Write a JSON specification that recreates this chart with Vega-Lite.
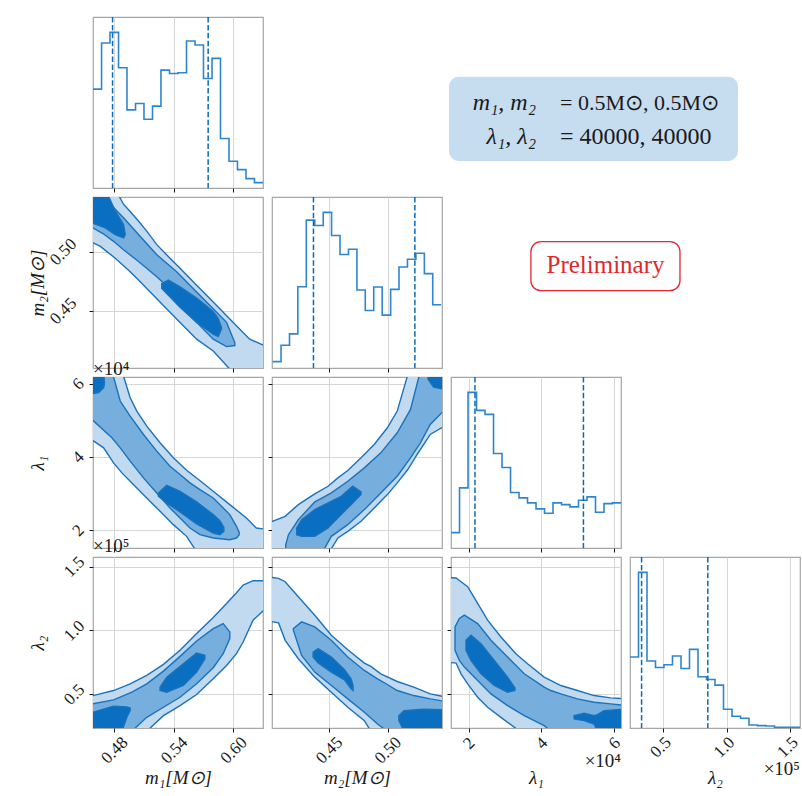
{
"$schema":"https://vega.github.io/schema/vega-lite/v6.json",
"background":"white",
"padding":{"left":27,"top":15,"right":0,"bottom":0},
"autosize":{"type":"pad"},
"config":{
 "font":"Liberation Serif",
 "view":{"stroke":"#a6a6a6","strokeWidth":1.2},
 "axis":{"domain":false,"grid":true,"gridColor":"#d2d2d2","gridWidth":0.9,"tickColor":"#1a1a1a","tickSize":4,"tickWidth":1,"labelFont":"Liberation Serif","labelFontSize":17,"labelColor":"#1a1a1a","labelFlush":false,"labelOverlap":false,"titleFont":"Liberation Serif","titleFontSize":19,"titleFontWeight":"normal","titleFontStyle":"italic","titleColor":"#1a1a1a"},
 "title":{"font":"Liberation Serif","fontSize":19,"fontWeight":"normal","color":"#1a1a1a"}
},
"datasets":{
"h11":[{"x":0.4586,"c":296},{"x":0.4672,"c":434},{"x":0.4757,"c":466},{"x":0.4843,"c":360},{"x":0.4928,"c":234},{"x":0.5014,"c":253},{"x":0.5099,"c":206},{"x":0.5185,"c":245},{"x":0.527,"c":353},{"x":0.5356,"c":343},{"x":0.5441,"c":345},{"x":0.5527,"c":440},{"x":0.5613,"c":428},{"x":0.5698,"c":328},{"x":0.5784,"c":388},{"x":0.5869,"c":148},{"x":0.5955,"c":80},{"x":0.604,"c":55},{"x":0.6126,"c":28},{"x":0.6211,"c":16},{"x":0.6297,"c":16}],
"h22":[{"x":0.402,"c":19},{"x":0.4092,"c":68},{"x":0.4164,"c":102},{"x":0.4235,"c":243},{"x":0.4307,"c":442},{"x":0.4379,"c":426},{"x":0.4451,"c":465},{"x":0.4522,"c":396},{"x":0.4594,"c":339},{"x":0.4666,"c":355},{"x":0.4738,"c":233},{"x":0.4809,"c":172},{"x":0.4881,"c":242},{"x":0.4953,"c":158},{"x":0.5025,"c":235},{"x":0.5096,"c":302},{"x":0.5168,"c":325},{"x":0.524,"c":343},{"x":0.5312,"c":282},{"x":0.5383,"c":189},{"x":0.5455,"c":189}],
"h33":[{"x":15180,"c":46},{"x":17513,"c":180},{"x":19845,"c":466},{"x":22178,"c":412},{"x":24510,"c":400},{"x":26843,"c":283},{"x":29175,"c":241},{"x":31508,"c":166},{"x":33840,"c":150},{"x":36173,"c":135},{"x":38505,"c":117},{"x":40838,"c":104},{"x":43170,"c":135},{"x":45503,"c":130},{"x":47835,"c":123},{"x":50168,"c":143},{"x":52500,"c":153},{"x":54833,"c":107},{"x":57165,"c":133},{"x":59498,"c":135},{"x":61830,"c":135}],
"h44":[{"x":23750,"c":212},{"x":30443,"c":465},{"x":37135,"c":200},{"x":43828,"c":181},{"x":50520,"c":189},{"x":57213,"c":215},{"x":63905,"c":178},{"x":70598,"c":235},{"x":77290,"c":153},{"x":83983,"c":145},{"x":90675,"c":128},{"x":97368,"c":56},{"x":104060,"c":35},{"x":110753,"c":29},{"x":117445,"c":9},{"x":124138,"c":7},{"x":130830,"c":6},{"x":137523,"c":2},{"x":144215,"c":2},{"x":150908,"c":2},{"x":157600,"c":2}],
"c21":[
{"l":1,"x":0.452,"lo":0.5101,"hi":0.553},{"l":1,"x":0.466,"lo":0.5044,"hi":0.553},{"l":1,"x":0.481,"lo":0.4944,"hi":0.553},{"l":1,"x":0.4893,"lo":0.4881,"hi":0.5401},{"l":1,"x":0.496,"lo":0.483,"hi":0.5339},{"l":1,"x":0.5044,"lo":0.4759,"hi":0.5259},{"l":1,"x":0.5127,"lo":0.4687,"hi":0.5173},{"l":1,"x":0.5228,"lo":0.4601,"hi":0.5059},{"l":1,"x":0.5361,"lo":0.4487,"hi":0.4944},{"l":1,"x":0.5462,"lo":0.4401,"hi":0.4859},{"l":1,"x":0.5629,"lo":0.4259,"hi":0.4716},{"l":1,"x":0.5796,"lo":0.4159,"hi":0.4573},{"l":1,"x":0.5963,"lo":0.4005,"hi":0.443},{"l":1,"x":0.6163,"lo":0.395,"hi":0.4259},{"l":1,"x":0.636,"lo":0.395,"hi":0.4187},
{"l":2,"x":0.452,"lo":0.523,"hi":0.553},{"l":2,"x":0.4686,"lo":0.5153,"hi":0.553},{"l":2,"x":0.4793,"lo":0.5087,"hi":0.5373},{"l":2,"x":0.4893,"lo":0.5016,"hi":0.5287},{"l":2,"x":0.5044,"lo":0.4916,"hi":0.5144},{"l":2,"x":0.5228,"lo":0.4787,"hi":0.4973},{"l":2,"x":0.5428,"lo":0.463,"hi":0.483},{"l":2,"x":0.5629,"lo":0.4401,"hi":0.4659},{"l":2,"x":0.5796,"lo":0.4259,"hi":0.4516},{"l":2,"x":0.593,"lo":0.4196,"hi":0.4401},{"l":2,"x":0.6013,"lo":0.4205,"hi":0.423},
{"l":3,"p":"a","x":0.452,"lo":0.5259,"hi":0.553},{"l":3,"p":"a","x":0.471,"lo":0.5201,"hi":0.553},{"l":3,"p":"a","x":0.481,"lo":0.5144,"hi":0.5344},{"l":3,"p":"a","x":0.4893,"lo":0.5116,"hi":0.523},{"l":3,"p":"a","x":0.491,"lo":0.514,"hi":0.515},
{"l":3,"p":"b","x":0.5278,"lo":0.4687,"hi":0.473},{"l":3,"p":"b","x":0.5345,"lo":0.463,"hi":0.4759},{"l":3,"p":"b","x":0.5462,"lo":0.453,"hi":0.4701},{"l":3,"p":"b","x":0.5629,"lo":0.4401,"hi":0.4607},{"l":3,"p":"b","x":0.5796,"lo":0.4301,"hi":0.4493},{"l":3,"p":"b","x":0.5846,"lo":0.4281,"hi":0.4436},{"l":3,"p":"b","x":0.5879,"lo":0.4344,"hi":0.4359}],
"c31":[
{"l":1,"x":0.452,"lo":45697,"hi":63500},{"l":1,"x":0.4693,"lo":42506,"hi":63500},{"l":1,"x":0.4793,"lo":38405,"hi":63500},{"l":1,"x":0.4877,"lo":35670,"hi":63500},{"l":1,"x":0.496,"lo":33392,"hi":56179},{"l":1,"x":0.5027,"lo":31568,"hi":52533},{"l":1,"x":0.5127,"lo":28833,"hi":48431},{"l":1,"x":0.5261,"lo":25188,"hi":43874},{"l":1,"x":0.5395,"lo":21543,"hi":39772},{"l":1,"x":0.5528,"lo":18351,"hi":36399},{"l":1,"x":0.5645,"lo":13500,"hi":33938},{"l":1,"x":0.5796,"lo":13500,"hi":30657},{"l":1,"x":0.5963,"lo":13500,"hi":27011},{"l":1,"x":0.613,"lo":13500,"hi":23365},{"l":1,"x":0.623,"lo":13500,"hi":20631},{"l":1,"x":0.636,"lo":13500,"hi":20175},
{"l":2,"x":0.452,"lo":51621,"hi":63500},{"l":2,"x":0.4776,"lo":45241,"hi":63500},{"l":2,"x":0.486,"lo":42506,"hi":55267},{"l":2,"x":0.496,"lo":38860,"hi":51166},{"l":2,"x":0.5094,"lo":34303,"hi":46152},{"l":2,"x":0.5228,"lo":30201,"hi":41595},{"l":2,"x":0.5361,"lo":26100,"hi":37493},{"l":2,"x":0.5462,"lo":23365,"hi":35214},{"l":2,"x":0.5562,"lo":20631,"hi":32936},{"l":2,"x":0.5662,"lo":18808,"hi":31112},{"l":2,"x":0.5796,"lo":17897,"hi":28833},{"l":2,"x":0.5963,"lo":17441,"hi":24276},{"l":2,"x":0.603,"lo":17897,"hi":21087},{"l":2,"x":0.6057,"lo":18808,"hi":19500},
{"l":3,"p":"a","x":0.452,"lo":57090,"hi":63500},{"l":3,"p":"a","x":0.4643,"lo":57546,"hi":63500},{"l":3,"p":"a","x":0.4693,"lo":58913,"hi":63500},{"l":3,"p":"a","x":0.47,"lo":59825,"hi":60736},
{"l":3,"p":"b","x":0.5244,"lo":29290,"hi":30201},{"l":3,"p":"b","x":0.5328,"lo":27466,"hi":32297},{"l":3,"p":"b","x":0.5462,"lo":25005,"hi":30657},{"l":3,"p":"b","x":0.5629,"lo":21725,"hi":27740},{"l":3,"p":"b","x":0.5796,"lo":19264,"hi":24276},{"l":3,"p":"b","x":0.5863,"lo":18808,"hi":22636},{"l":3,"p":"b","x":0.5903,"lo":19720,"hi":20813}],
"c32":[
{"l":1,"x":0.395,"lo":13500,"hi":21543},{"l":1,"x":0.4127,"lo":13500,"hi":23821},{"l":1,"x":0.4239,"lo":13500,"hi":27011},{"l":1,"x":0.4379,"lo":13500,"hi":29927},{"l":1,"x":0.4492,"lo":13500,"hi":32024},{"l":1,"x":0.4576,"lo":17897,"hi":34303},{"l":1,"x":0.466,"lo":19720,"hi":36308},{"l":1,"x":0.4773,"lo":22454,"hi":39772},{"l":1,"x":0.4885,"lo":26100,"hi":43418},{"l":1,"x":0.4997,"lo":29745,"hi":47975},{"l":1,"x":0.5081,"lo":32936,"hi":52533},{"l":1,"x":0.5171,"lo":36581,"hi":62500},{"l":1,"x":0.525,"lo":40684,"hi":63500},{"l":1,"x":0.5362,"lo":46152,"hi":63500},{"l":1,"x":0.553,"lo":49343,"hi":63500},
{"l":2,"x":0.4132,"lo":13500,"hi":16074},{"l":2,"x":0.4155,"lo":13500,"hi":18808},{"l":2,"x":0.4239,"lo":13500,"hi":22910},{"l":2,"x":0.4379,"lo":13500,"hi":27740},{"l":2,"x":0.4435,"lo":13500,"hi":28700},{"l":2,"x":0.452,"lo":18352,"hi":30201},{"l":2,"x":0.466,"lo":21543,"hi":33392},{"l":2,"x":0.4801,"lo":25643,"hi":37037},{"l":2,"x":0.4941,"lo":30201,"hi":41139},{"l":2,"x":0.5081,"lo":34758,"hi":46608},{"l":2,"x":0.5194,"lo":39772,"hi":52988},{"l":2,"x":0.5278,"lo":43874,"hi":63500},{"l":2,"x":0.5362,"lo":48887,"hi":63500},{"l":2,"x":0.553,"lo":54356,"hi":63500},
{"l":3,"p":"a","x":0.4225,"lo":18808,"hi":20631},{"l":3,"p":"a","x":0.4267,"lo":18352,"hi":22910},{"l":3,"p":"a","x":0.4379,"lo":18352,"hi":25643},{"l":3,"p":"a","x":0.4492,"lo":20631,"hi":27466},{"l":3,"p":"a","x":0.4604,"lo":24276,"hi":29290},{"l":3,"p":"a","x":0.4702,"lo":27466,"hi":32024},{"l":3,"p":"a","x":0.4773,"lo":29745,"hi":30475},
{"l":3,"p":"b","x":0.5343,"lo":61192,"hi":63500},{"l":3,"p":"b","x":0.539,"lo":59096,"hi":63500},{"l":3,"p":"b","x":0.553,"lo":58184,"hi":63500}],
"c41":[
{"l":1,"x":0.452,"lo":21000,"hi":47617},{"l":1,"x":0.4793,"lo":21000,"hi":52865},{"l":1,"x":0.496,"lo":21000,"hi":58113},{"l":1,"x":0.5127,"lo":21000,"hi":64673},{"l":1,"x":0.5295,"lo":33185,"hi":73332},{"l":1,"x":0.5462,"lo":41057,"hi":84353},{"l":1,"x":0.5629,"lo":49716,"hi":97473},{"l":1,"x":0.5796,"lo":62049,"hi":110068},{"l":1,"x":0.593,"lo":72545,"hi":121089},{"l":1,"x":0.603,"lo":81729,"hi":129486},{"l":1,"x":0.6097,"lo":90913,"hi":135521},{"l":1,"x":0.6197,"lo":107969,"hi":138932},{"l":1,"x":0.636,"lo":119777,"hi":138932},
{"l":2,"x":0.452,"lo":21000,"hi":41582},{"l":2,"x":0.4793,"lo":21000,"hi":45518},{"l":2,"x":0.4977,"lo":21000,"hi":51553},{"l":2,"x":0.5127,"lo":31873,"hi":58113},{"l":2,"x":0.5295,"lo":39745,"hi":68084},{"l":2,"x":0.5462,"lo":47617,"hi":79630},{"l":2,"x":0.5629,"lo":58113,"hi":91700},{"l":2,"x":0.5796,"lo":70708,"hi":101409},{"l":2,"x":0.5896,"lo":81729,"hi":105345},{"l":2,"x":0.5963,"lo":93537,"hi":98785},
{"l":3,"p":"a","x":0.452,"lo":21000,"hi":34497},{"l":3,"p":"a","x":0.4793,"lo":21000,"hi":40532},{"l":3,"p":"a","x":0.4877,"lo":21000,"hi":40270},{"l":3,"p":"a","x":0.4927,"lo":31873,"hi":40000},{"l":3,"p":"a","x":0.496,"lo":37121,"hi":39220},
{"l":3,"p":"b","x":0.5261,"lo":52865,"hi":55489},{"l":3,"p":"b","x":0.5328,"lo":51553,"hi":63361},{"l":3,"p":"b","x":0.5495,"lo":56801,"hi":73857},{"l":3,"p":"b","x":0.5629,"lo":67297,"hi":82254},{"l":3,"p":"b","x":0.5712,"lo":77793,"hi":80417}],
"c42":[
{"l":1,"x":0.395,"lo":107969,"hi":142081},{"l":1,"x":0.4071,"lo":105870,"hi":140769},{"l":1,"x":0.4127,"lo":92225,"hi":138145},{"l":1,"x":0.4239,"lo":77793,"hi":126337},{"l":1,"x":0.4379,"lo":63361,"hi":111905},{"l":1,"x":0.452,"lo":51553,"hi":96161},{"l":1,"x":0.466,"lo":39745,"hi":84878},{"l":1,"x":0.4801,"lo":29249,"hi":74382},{"l":1,"x":0.4857,"lo":21000,"hi":71758},{"l":1,"x":0.4941,"lo":21000,"hi":65985},{"l":1,"x":0.5081,"lo":21000,"hi":59950},{"l":1,"x":0.5222,"lo":21000,"hi":55489},{"l":1,"x":0.5362,"lo":21000,"hi":50241},{"l":1,"x":0.553,"lo":21000,"hi":47093},
{"l":2,"x":0.4197,"lo":100097,"hi":101409},{"l":2,"x":0.4267,"lo":80417,"hi":106657},{"l":2,"x":0.4379,"lo":67297,"hi":102721},{"l":2,"x":0.452,"lo":56801,"hi":92225},{"l":2,"x":0.466,"lo":46305,"hi":79105},{"l":2,"x":0.4801,"lo":35809,"hi":68609},{"l":2,"x":0.4913,"lo":26625,"hi":62049},{"l":2,"x":0.4997,"lo":21000,"hi":57588},{"l":2,"x":0.5081,"lo":21000,"hi":52865},{"l":2,"x":0.5222,"lo":21000,"hi":48929},{"l":2,"x":0.5362,"lo":21000,"hi":46305},{"l":2,"x":0.553,"lo":21000,"hi":43681},
{"l":3,"p":"a","x":0.4365,"lo":79105,"hi":83041},{"l":3,"p":"a","x":0.4408,"lo":74382,"hi":85665},{"l":3,"p":"a","x":0.452,"lo":67297,"hi":79105},{"l":3,"p":"a","x":0.4632,"lo":61262,"hi":69134},{"l":3,"p":"a","x":0.4688,"lo":54177,"hi":62049},{"l":3,"p":"a","x":0.4705,"lo":52865,"hi":56801},
{"l":3,"p":"b","x":0.5095,"lo":29249,"hi":33185},{"l":3,"p":"b","x":0.5138,"lo":21000,"hi":37121},{"l":3,"p":"b","x":0.5306,"lo":21000,"hi":38171},{"l":3,"p":"b","x":0.553,"lo":21000,"hi":37646}],
"c43":[
{"l":1,"x":13500,"lo":75169,"hi":141556},{"l":1,"x":16550,"lo":74382,"hi":141031},{"l":1,"x":17919,"lo":65985,"hi":138145},{"l":1,"x":19745,"lo":58113,"hi":134209},{"l":1,"x":22484,"lo":47617,"hi":121089},{"l":1,"x":25223,"lo":39745,"hi":107969},{"l":1,"x":28875,"lo":31873,"hi":94849},{"l":1,"x":32984,"lo":23214,"hi":81729},{"l":1,"x":36179,"lo":21000,"hi":73857},{"l":1,"x":40744,"lo":21000,"hi":63361},{"l":1,"x":45309,"lo":21000,"hi":56801},{"l":1,"x":49874,"lo":21000,"hi":52865},{"l":1,"x":54439,"lo":21000,"hi":48929},{"l":1,"x":59004,"lo":21000,"hi":47093},{"l":1,"x":63500,"lo":21000,"hi":46305},
{"l":2,"x":16276,"lo":84353,"hi":102721},{"l":2,"x":17463,"lo":76481,"hi":109281},{"l":2,"x":18832,"lo":71233,"hi":111905},{"l":2,"x":22484,"lo":60737,"hi":105345},{"l":2,"x":26136,"lo":50241,"hi":92225},{"l":2,"x":30701,"lo":41057,"hi":79105},{"l":2,"x":35266,"lo":33185,"hi":65985},{"l":2,"x":40744,"lo":25313,"hi":55489},{"l":2,"x":42570,"lo":21000,"hi":52865},{"l":2,"x":45309,"lo":21000,"hi":50241},{"l":2,"x":49874,"lo":21000,"hi":46305},{"l":2,"x":54439,"lo":21000,"hi":43681},{"l":2,"x":59004,"lo":21000,"hi":42369},{"l":2,"x":63500,"lo":21000,"hi":41057},
{"l":3,"p":"a","x":19289,"lo":84353,"hi":92225},{"l":3,"p":"a","x":20658,"lo":76481,"hi":96161},{"l":3,"p":"a","x":23397,"lo":65985,"hi":89601},{"l":3,"p":"a","x":27049,"lo":56801,"hi":76481},{"l":3,"p":"a","x":30701,"lo":51553,"hi":63361},{"l":3,"p":"a","x":32710,"lo":52865,"hi":54964},
{"l":3,"p":"b","x":48961,"lo":30561,"hi":33185},{"l":3,"p":"b","x":51700,"lo":29249,"hi":35022},{"l":3,"p":"b","x":54439,"lo":26625,"hi":33185},{"l":3,"p":"b","x":55352,"lo":21000,"hi":33972},{"l":3,"p":"b","x":57178,"lo":21000,"hi":37121},{"l":3,"p":"b","x":63500,"lo":21000,"hi":38433}]
},
"columns":4,
"spacing":9,
"bounds":"flush",
"concat":[
{"width":170,"height":171,
 "layer":[
  {"data":{"name":"h11"},"mark":{"type":"line","interpolate":"step-after","clip":true,"color":"#2f86cf","strokeWidth":1.6},
   "encoding":{"x":{"field":"x","type":"quantitative","scale":{"domain":[0.4586,0.6297],"nice":false,"zero":false},"axis":{"values":[0.48,0.54,0.6],"labels":false,"title":null}},
   "y":{"field":"c","type":"quantitative","scale":{"domain":[0,512],"nice":false},"axis":null}}},
  {"data":{"values":[{"q":0.4783},{"q":0.5745}]},"mark":{"type":"rule","strokeDash":[5.5,2.4],"color":"#0a6cb8","strokeWidth":1.5},"encoding":{"x":{"field":"q","type":"quantitative"}}}
 ]},
{"width":170,"height":171,"data":{"values":[{}]},"mark":{"type":"point","opacity":0},"view":{"stroke":null}},
{"width":170,"height":171,"view":{"stroke":null},"data":{"values":[{}]},
 "layer":[
  {"mark":{"type":"rect","fill":"#c6ddf0","cornerRadius":10},
   "encoding":{"x":{"datum":-0.012,"type":"quantitative","scale":{"domain":[0,1],"nice":false,"zero":false},"axis":null},"x2":{"datum":1.688},
   "y":{"datum":0.158,"type":"quantitative","scale":{"domain":[0,1],"nice":false,"zero":false},"axis":null},"y2":{"datum":0.65}}},
  {"mark":{"type":"text","align":"right","baseline":"alphabetic","fontSize":24,"fontStyle":"italic","color":"#1a1a1a"},
   "encoding":{"x":{"datum":0.5,"type":"quantitative"},"y":{"datum":0.455,"type":"quantitative"},"text":{"value":"m₁, m₂"}}},
  {"mark":{"type":"text","align":"left","baseline":"alphabetic","fontSize":22,"color":"#1a1a1a"},
   "encoding":{"x":{"datum":0.641,"type":"quantitative"},"y":{"datum":0.455,"type":"quantitative"},"text":{"value":"= 0.5M⊙, 0.5M⊙"}}},
  {"mark":{"type":"text","align":"right","baseline":"alphabetic","fontSize":24,"fontStyle":"italic","color":"#1a1a1a"},
   "encoding":{"x":{"datum":0.5,"type":"quantitative"},"y":{"datum":0.26,"type":"quantitative"},"text":{"value":"λ₁, λ₂"}}},
  {"mark":{"type":"text","align":"left","baseline":"alphabetic","fontSize":24,"color":"#1a1a1a"},
   "encoding":{"x":{"datum":0.641,"type":"quantitative"},"y":{"datum":0.26,"type":"quantitative"},"text":{"value":"= 40000, 40000"}}}
 ]},
{"width":170,"height":171,"data":{"values":[{}]},"mark":{"type":"point","opacity":0},"view":{"stroke":null}},
{"width":170,"height":171,"data":{"name":"c21"},
 "encoding":{
  "x":{"field":"x","type":"quantitative","scale":{"domain":[0.4586,0.6297],"nice":false,"zero":false},"axis":{"values":[0.48,0.54,0.6],"labels":false,"title":null}},
  "y":{"field":"hi","type":"quantitative","stack":null,"scale":{"domain":[0.4015,0.5462],"nice":false,"zero":false},"axis":{"values":[0.45,0.5],"labelExpr":"format(datum.value,'.2f')","labelAngle":-45,"labelAlign":"center","labelBaseline":"middle","labelPadding":26,"title":"m₂[M⊙]","titleX":-56,"titleBaseline":"middle"}},
  "y2":{"field":"lo"}},
 "layer":[
  {"transform":[{"filter":"datum.l==1"}],"mark":{"type":"area","clip":true,"fill":"#c1daef","stroke":"#1a72bd","strokeWidth":1.4}},
  {"transform":[{"filter":"datum.l==2"}],"mark":{"type":"area","clip":true,"fill":"#76aedd","stroke":"#1a72bd","strokeWidth":1.4}},
  {"transform":[{"filter":"datum.l==3"}],"mark":{"type":"area","clip":true,"fill":"#0a6fc0","stroke":"#1a72bd","strokeWidth":1.4},"encoding":{"detail":{"field":"p"}}}
 ]},
{"width":170,"height":171,
 "layer":[
  {"data":{"name":"h22"},"mark":{"type":"line","interpolate":"step-after","clip":true,"color":"#2f86cf","strokeWidth":1.6},
   "encoding":{"x":{"field":"x","type":"quantitative","scale":{"domain":[0.4015,0.5462],"nice":false,"zero":false},"axis":{"values":[0.45,0.5],"labels":false,"title":null}},
   "y":{"field":"c","type":"quantitative","scale":{"domain":[0,511],"nice":false},"axis":null}}},
  {"data":{"values":[{"q":0.4368},{"q":0.5231}]},"mark":{"type":"rule","strokeDash":[5.5,2.4],"color":"#0a6cb8","strokeWidth":1.5},"encoding":{"x":{"field":"q","type":"quantitative"}}}
 ]},
{"width":170,"height":171,"view":{"stroke":null},"data":{"values":[{}]},
 "layer":[
  {"mark":{"type":"rect","fill":"white","stroke":"#e0282e","strokeWidth":1.3,"cornerRadius":10},
   "encoding":{"x":{"datum":0.47,"type":"quantitative","scale":{"domain":[0,1],"nice":false,"zero":false},"axis":null},"x2":{"datum":1.347},
   "y":{"datum":0.452,"type":"quantitative","scale":{"domain":[0,1],"nice":false,"zero":false},"axis":null},"y2":{"datum":0.739}}},
  {"mark":{"type":"text","align":"center","baseline":"alphabetic","fontSize":25,"color":"#dd2a2a"},
   "encoding":{"x":{"datum":0.909,"type":"quantitative"},"y":{"datum":0.5575,"type":"quantitative"},"text":{"value":"Preliminary"}}}
 ]},
{"width":170,"height":171,"data":{"values":[{}]},"mark":{"type":"point","opacity":0},"view":{"stroke":null}},
{"width":170,"height":171,"data":{"name":"c31"},
 "title":{"text":"×10⁴","anchor":"start","frame":"group","offset":-20,"baseline":"alphabetic"},
 "encoding":{
  "x":{"field":"x","type":"quantitative","scale":{"domain":[0.4586,0.6297],"nice":false,"zero":false},"axis":{"values":[0.48,0.54,0.6],"labels":false,"title":null}},
  "y":{"field":"hi","type":"quantitative","stack":null,"scale":{"domain":[15170,61830],"nice":false,"zero":false},"axis":{"values":[20000,40000,60000],"labelExpr":"format(datum.value/10000,'d')","labelAngle":-45,"labelAlign":"center","labelBaseline":"middle","labelPadding":11,"title":"λ₁","titleX":-56,"titleBaseline":"middle"}},
  "y2":{"field":"lo"}},
 "layer":[
  {"transform":[{"filter":"datum.l==1"}],"mark":{"type":"area","clip":true,"fill":"#c1daef","stroke":"#1a72bd","strokeWidth":1.4}},
  {"transform":[{"filter":"datum.l==2"}],"mark":{"type":"area","clip":true,"fill":"#76aedd","stroke":"#1a72bd","strokeWidth":1.4}},
  {"transform":[{"filter":"datum.l==3"}],"mark":{"type":"area","clip":true,"fill":"#0a6fc0","stroke":"#1a72bd","strokeWidth":1.4},"encoding":{"detail":{"field":"p"}}}
 ]},
{"width":170,"height":171,"data":{"name":"c32"},
 "encoding":{
  "x":{"field":"x","type":"quantitative","scale":{"domain":[0.4015,0.5462],"nice":false,"zero":false},"axis":{"values":[0.45,0.5],"labels":false,"title":null}},
  "y":{"field":"hi","type":"quantitative","stack":null,"scale":{"domain":[15170,61830],"nice":false,"zero":false},"axis":{"values":[20000,40000,60000],"labels":false,"title":null}},
  "y2":{"field":"lo"}},
 "layer":[
  {"transform":[{"filter":"datum.l==1"}],"mark":{"type":"area","clip":true,"fill":"#c1daef","stroke":"#1a72bd","strokeWidth":1.4}},
  {"transform":[{"filter":"datum.l==2"}],"mark":{"type":"area","clip":true,"fill":"#76aedd","stroke":"#1a72bd","strokeWidth":1.4}},
  {"transform":[{"filter":"datum.l==3"}],"mark":{"type":"area","clip":true,"fill":"#0a6fc0","stroke":"#1a72bd","strokeWidth":1.4},"encoding":{"detail":{"field":"p"}}}
 ]},
{"width":170,"height":171,
 "layer":[
  {"data":{"name":"h33"},"mark":{"type":"line","interpolate":"step-after","clip":true,"color":"#2f86cf","strokeWidth":1.6},
   "encoding":{"x":{"field":"x","type":"quantitative","scale":{"domain":[15170,61830],"nice":false,"zero":false},"axis":{"values":[20000,40000,60000],"labels":false,"title":null}},
   "y":{"field":"c","type":"quantitative","scale":{"domain":[0,512],"nice":false},"axis":null}}},
  {"data":{"values":[{"q":21750},{"q":51520}]},"mark":{"type":"rule","strokeDash":[5.5,2.4],"color":"#0a6cb8","strokeWidth":1.5},"encoding":{"x":{"field":"q","type":"quantitative"}}}
 ]},
{"width":170,"height":171,"data":{"values":[{}]},"mark":{"type":"point","opacity":0},"view":{"stroke":null}},
{"width":170,"height":171,"data":{"name":"c41"},
 "title":{"text":"×10⁵","anchor":"start","frame":"group","offset":-18,"baseline":"alphabetic"},
 "encoding":{
  "x":{"field":"x","type":"quantitative","scale":{"domain":[0.4586,0.6297],"nice":false,"zero":false},"axis":{"values":[0.48,0.54,0.6],"labelExpr":"format(datum.value,'.2f')","labelAngle":-45,"labelAlign":"center","labelBaseline":"middle","labelPadding":18,"title":"m₁[M⊙]","titleY":40,"titleBaseline":"top"}},
  "y":{"field":"hi","type":"quantitative","stack":null,"scale":{"domain":[23500,157500],"nice":false,"zero":false},"axis":{"values":[50000,100000,150000],"labelExpr":"format(datum.value/100000,'.1f')","labelAngle":-45,"labelAlign":"center","labelBaseline":"middle","labelPadding":15,"title":"λ₂","titleX":-56,"titleBaseline":"middle"}},
  "y2":{"field":"lo"}},
 "layer":[
  {"transform":[{"filter":"datum.l==1"}],"mark":{"type":"area","clip":true,"fill":"#c1daef","stroke":"#1a72bd","strokeWidth":1.4}},
  {"transform":[{"filter":"datum.l==2"}],"mark":{"type":"area","clip":true,"fill":"#76aedd","stroke":"#1a72bd","strokeWidth":1.4}},
  {"transform":[{"filter":"datum.l==3"}],"mark":{"type":"area","clip":true,"fill":"#0a6fc0","stroke":"#1a72bd","strokeWidth":1.4},"encoding":{"detail":{"field":"p"}}}
 ]},
{"width":170,"height":171,"data":{"name":"c42"},
 "encoding":{
  "x":{"field":"x","type":"quantitative","scale":{"domain":[0.4015,0.5462],"nice":false,"zero":false},"axis":{"values":[0.45,0.5],"labelExpr":"format(datum.value,'.2f')","labelAngle":-45,"labelAlign":"center","labelBaseline":"middle","labelPadding":18,"title":"m₂[M⊙]","titleY":40,"titleBaseline":"top"}},
  "y":{"field":"hi","type":"quantitative","stack":null,"scale":{"domain":[23500,157500],"nice":false,"zero":false},"axis":{"values":[50000,100000,150000],"labels":false,"title":null}},
  "y2":{"field":"lo"}},
 "layer":[
  {"transform":[{"filter":"datum.l==1"}],"mark":{"type":"area","clip":true,"fill":"#c1daef","stroke":"#1a72bd","strokeWidth":1.4}},
  {"transform":[{"filter":"datum.l==2"}],"mark":{"type":"area","clip":true,"fill":"#76aedd","stroke":"#1a72bd","strokeWidth":1.4}},
  {"transform":[{"filter":"datum.l==3"}],"mark":{"type":"area","clip":true,"fill":"#0a6fc0","stroke":"#1a72bd","strokeWidth":1.4},"encoding":{"detail":{"field":"p"}}}
 ]},
{"width":170,"height":171,"data":{"name":"c43"},
 "title":{"text":"×10⁴","orient":"bottom","anchor":"end","frame":"group","offset":-20,"baseline":"alphabetic"},
 "encoding":{
  "x":{"field":"x","type":"quantitative","scale":{"domain":[15170,61830],"nice":false,"zero":false},"axis":{"values":[20000,40000,60000],"labelExpr":"format(datum.value/10000,'d')","labelAngle":-45,"labelAlign":"center","labelBaseline":"middle","labelPadding":11,"title":"λ₁","titleY":40,"titleBaseline":"top"}},
  "y":{"field":"hi","type":"quantitative","stack":null,"scale":{"domain":[23500,157500],"nice":false,"zero":false},"axis":{"values":[50000,100000,150000],"labels":false,"title":null}},
  "y2":{"field":"lo"}},
 "layer":[
  {"transform":[{"filter":"datum.l==1"}],"mark":{"type":"area","clip":true,"fill":"#c1daef","stroke":"#1a72bd","strokeWidth":1.4}},
  {"transform":[{"filter":"datum.l==2"}],"mark":{"type":"area","clip":true,"fill":"#76aedd","stroke":"#1a72bd","strokeWidth":1.4}},
  {"transform":[{"filter":"datum.l==3"}],"mark":{"type":"area","clip":true,"fill":"#0a6fc0","stroke":"#1a72bd","strokeWidth":1.4},"encoding":{"detail":{"field":"p"}}}
 ]},
{"width":170,"height":171,
 "title":{"text":"×10⁵","orient":"bottom","anchor":"end","frame":"group","offset":-12,"baseline":"alphabetic"},
 "layer":[
  {"data":{"name":"h44"},"mark":{"type":"line","interpolate":"step-after","clip":true,"color":"#2f86cf","strokeWidth":1.6},
   "encoding":{"x":{"field":"x","type":"quantitative","scale":{"domain":[23750,157600],"nice":false,"zero":false},"axis":{"values":[50000,100000,150000],"labelExpr":"format(datum.value/100000,'.1f')","labelAngle":-45,"labelAlign":"center","labelBaseline":"middle","labelPadding":15,"labelOffset":-3,"title":"λ₂","titleY":40,"titleBaseline":"top"}},
   "y":{"field":"c","type":"quantitative","scale":{"domain":[0,511],"nice":false},"axis":null}}},
  {"data":{"values":[{"q":32875},{"q":85010}]},"mark":{"type":"rule","strokeDash":[5.5,2.4],"color":"#0a6cb8","strokeWidth":1.5},"encoding":{"x":{"field":"q","type":"quantitative"}}}
 ]}
]
}
